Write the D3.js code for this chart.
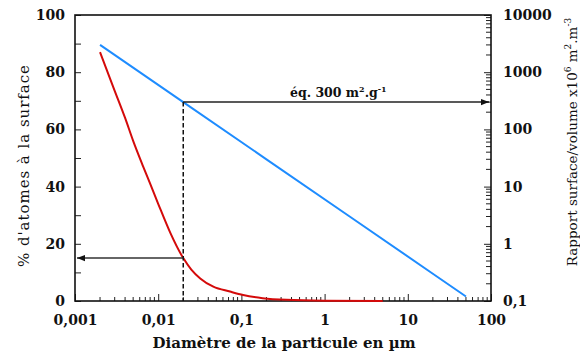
<!DOCTYPE html>
<html>
<head>
<meta charset="utf-8">
<script src="https://cdn.jsdelivr.net/npm/d3@7"></script>
<style>
  html, body { margin: 0; padding: 0; background: #fff; }
  svg { display: block; }
  text { font-family: "DejaVu Serif", serif; fill: #111; }
</style>
</head>
<body>
<svg id="chart" width="580" height="358"></svg>
<script>
// ---- data ----
const diamRed = [0.002, 0.003, 0.004, 0.005, 0.0066, 0.008, 0.01, 0.0139, 0.02, 0.025, 0.032, 0.046, 0.073, 0.105, 0.18, 0.35, 1, 5];
const pctAtoms = [87, 73.5, 64, 56, 47, 41, 34, 24, 15, 11, 7.9, 5.0, 3.3, 2.1, 1.0, 0.4, 0.1, 0.0];
const diamBlue = [0.002, 0.02, 0.2, 2, 20, 50];
const surfVol = [3000, 300, 30, 3, 0.3, 0.12];
const xTickValues = [0.001, 0.01, 0.1, 1, 10, 100];
const xTickLabels = ["0,001", "0,01", "0,1", "1", "10", "100"];
const yLeftTicks = [0, 20, 40, 60, 80, 100];
const yRightValues = [0.1, 1, 10, 100, 1000, 10000];
const yRightLabels = ["0,1", "1", "10", "100", "1000", "10000"];
const markDiam = 0.02;
const markPct = 15;
const markSV = 300;

// ---- layout ----
const L = 75, R = 491, T = 15, B = 301;
const svg = d3.select("#chart");

const x = d3.scaleLog().domain([0.001, 100]).range([L, R]);
const yL = d3.scaleLinear().domain([0, 100]).range([B, T]);
const yR = d3.scaleLog().domain([0.1, 10000]).range([B, T]);

// arrow marker
const defs = svg.append("defs");
defs.append("marker").attr("id", "arr").attr("viewBox", "0 -5 10 10")
  .attr("refX", 10).attr("refY", 0).attr("markerWidth", 10).attr("markerHeight", 8)
  .attr("markerUnits", "userSpaceOnUse").attr("orient", "auto")
  .append("path").attr("d", "M0,-4L10,0L0,4Z").attr("fill", "#111");

// minor ticks helper
function minorLog(scale) {
  return scale.ticks().filter(v => {
    const m = v / Math.pow(10, Math.floor(Math.log10(v) + 1e-9));
    return Math.abs(m - 1) > 1e-6;
  });
}

// left axis
const gL = svg.append("g").attr("transform", `translate(${L},0)`)
  .call(d3.axisLeft(yL).tickValues(d3.range(0, 101, 10)).tickSize(-6).tickPadding(10)
    .tickFormat(d => yLeftTicks.includes(d) ? String(d) : ""));
// bottom axis
const gB = svg.append("g").attr("transform", `translate(0,${B})`)
  .call(d3.axisBottom(x).tickValues(xTickValues).tickSize(-7).tickPadding(14)
    .tickFormat((d, i) => xTickLabels[i]));
gB.append("g").selectAll("line").data(minorLog(x)).join("line")
  .attr("x1", d => x(d)).attr("x2", d => x(d)).attr("y1", 0).attr("y2", -4)
  .attr("stroke", "#222");
// right axis
const gR = svg.append("g").attr("transform", `translate(${R},0)`)
  .call(d3.axisRight(yR).tickValues(yRightValues).tickSize(-7).tickPadding(12)
    .tickFormat((d, i) => yRightLabels[i]));
gR.append("g").selectAll("line").data(minorLog(yR)).join("line")
  .attr("y1", d => yR(d)).attr("y2", d => yR(d)).attr("x1", 0).attr("x2", -5)
  .attr("stroke", "#222");

[gL, gB, gR].forEach(g => {
  g.select(".domain").remove();
  g.selectAll(".tick line").attr("stroke", "#222");
  g.selectAll("text").attr("font-size", 14).attr("font-weight", "bold")
    .attr("font-family", "DejaVu Serif").attr("fill", "#111");
});

// frame
svg.append("rect").attr("x", L).attr("y", T).attr("width", R - L).attr("height", B - T)
  .attr("fill", "none").attr("stroke", "#111").attr("stroke-width", 1.6);

// curves
const lineRed = d3.line().x((d, i) => x(diamRed[i])).y(d => yL(d)).curve(d3.curveMonotoneX);
svg.append("path").attr("d", lineRed(pctAtoms)).attr("fill", "none")
  .attr("stroke", "#d40a0a").attr("stroke-width", 2);
const lineBlue = d3.line().x((d, i) => x(diamBlue[i])).y(d => yR(d));
svg.append("path").attr("d", lineBlue(surfVol)).attr("fill", "none")
  .attr("stroke", "#1e8cff").attr("stroke-width", 2);

// guide lines
svg.append("line").attr("x1", x(markDiam)).attr("x2", x(markDiam))
  .attr("y1", yR(markSV)).attr("y2", B).attr("stroke", "#111")
  .attr("stroke-width", 1.5).attr("stroke-dasharray", "4.5,2.5");
svg.append("line").attr("x1", x(markDiam)).attr("x2", R - 2)
  .attr("y1", yR(markSV)).attr("y2", yR(markSV)).attr("stroke", "#222")
  .attr("stroke-width", 1.5).attr("marker-end", "url(#arr)");
svg.append("line").attr("x1", x(markDiam)).attr("x2", L + 2)
  .attr("y1", yL(markPct)).attr("y2", yL(markPct)).attr("stroke", "#333")
  .attr("stroke-width", 1.5).attr("marker-end", "url(#arr)");

// annotation
const ann = svg.append("text").attr("x", 290).attr("y", 97)
  .attr("font-size", 12.5).attr("font-weight", "bold");
ann.append("tspan").text("éq. 300 m");
ann.append("tspan").attr("font-size", 8).attr("dy", -5).text("2");
ann.append("tspan").attr("dy", 5).text(".g");
ann.append("tspan").attr("font-size", 8).attr("dy", -5).text("-1");

// axis titles
svg.append("text").attr("x", 284).attr("y", 348).attr("text-anchor", "middle")
  .attr("font-size", 15).attr("font-weight", "bold").text("Diamètre de la particule en µm");
svg.append("text").attr("transform", "translate(29,166) rotate(-90)")
  .attr("text-anchor", "middle").attr("font-size", 15)
  .attr("textLength", 202).attr("lengthAdjust", "spacing")
  .text("% d'atomes à la surface");
const rt = svg.append("text").attr("transform", "translate(577,142) rotate(-90)")
  .attr("text-anchor", "middle").attr("font-size", 13.5);
rt.append("tspan").text("Rapport surface/volume x10");
rt.append("tspan").attr("font-size", 9).attr("dy", -6).text("6");
rt.append("tspan").attr("dy", 6).text(" m");
rt.append("tspan").attr("font-size", 9).attr("dy", -6).text("2");
rt.append("tspan").attr("dy", 6).text(".m");
rt.append("tspan").attr("font-size", 9).attr("dy", -6).text("-3");
</script>
</body>
</html>
